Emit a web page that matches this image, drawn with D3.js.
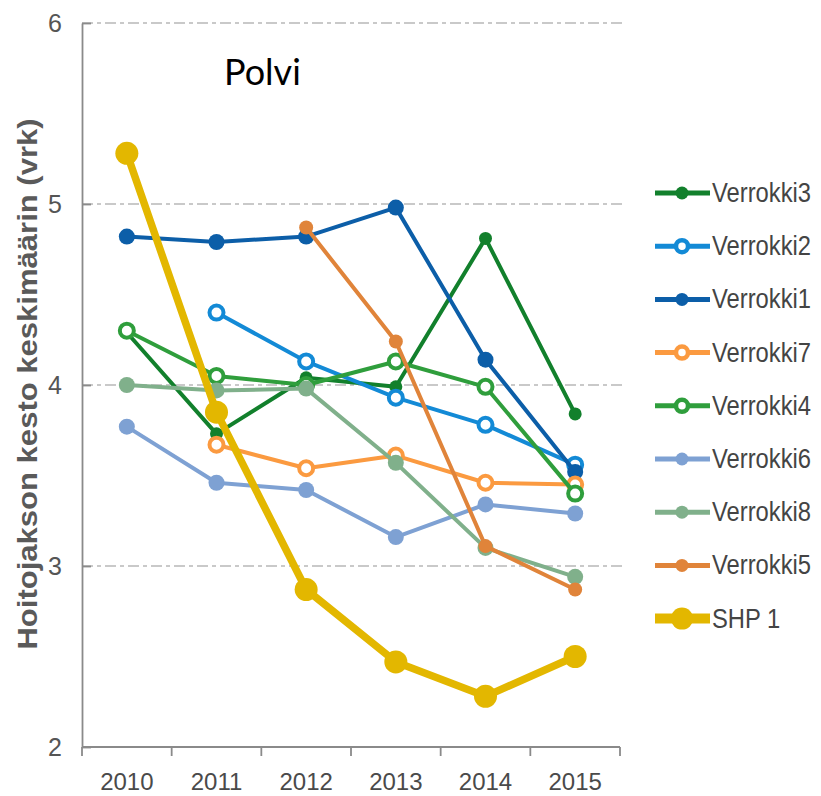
<!DOCTYPE html>
<html>
<head>
<meta charset="utf-8">
<script src="https://cdn.jsdelivr.net/npm/d3@7"></script>
<style>
body { margin: 0; background: #fff; }
svg { display: block; }
</style>
</head>
<body>
<svg width="821" height="796"></svg>
<script>
const years = [2010, 2011, 2012, 2013, 2014, 2015]
const yTicks = [2, 3, 4, 5, 6]

// null = no value that year
const verrokki3 = [4.29, 3.73, 4.04, 3.99, 4.81, 3.84]
const verrokki2 = [null, 4.40, 4.13, 3.93, 3.78, 3.56]
const verrokki1 = [4.82, 4.79, 4.82, 4.98, 4.14, 3.52]
const verrokki7 = [null, 3.67, 3.54, 3.61, 3.46, 3.45]
const verrokki4 = [4.30, 4.05, 4.00, 4.13, 3.99, 3.40]
const verrokki6 = [3.77, 3.46, 3.42, 3.16, 3.34, 3.29]
const verrokki8 = [4.00, 3.97, 3.98, 3.57, 3.10, 2.94]
const verrokki5 = [null, null, 4.87, 4.24, 3.11, 2.87]
const shp1 = [5.28, 3.85, 2.87, 2.47, 2.28, 2.50]

const series = [
    {name: "Verrokki3", values: verrokki3, color: "#12802c", open: false, r: 6.5, w: 4},
    {name: "Verrokki2", values: verrokki2, color: "#138ad6", open: true, r: 9, w: 4},
    {name: "Verrokki1", values: verrokki1, color: "#0c5ea8", open: false, r: 8, w: 4},
    {name: "Verrokki7", values: verrokki7, color: "#fb9a40", open: true, r: 9, w: 4},
    {name: "Verrokki4", values: verrokki4, color: "#2f9e3c", open: true, r: 9, w: 4},
    {name: "Verrokki6", values: verrokki6, color: "#7ea1d3", open: false, r: 8, w: 4},
    {name: "Verrokki8", values: verrokki8, color: "#80b08b", open: false, r: 8, w: 4},
    {name: "Verrokki5", values: verrokki5, color: "#e0843a", open: false, r: 7, w: 4},
    {name: "SHP 1", values: shp1, color: "#e3b700", open: false, r: 11.5, w: 7.5}
]

const svg = d3.select("svg")
const plotLeft = 82, plotRight = 620, plotTop = 23, plotBottom = 747

const x = d3.scaleBand().domain(years).range([plotLeft, plotRight])
const y = d3.scaleLinear().domain([2, 6]).range([plotBottom, plotTop])
const cx = d => x(d) + x.bandwidth() / 2

// gridlines
svg.append("g")
    .selectAll("line")
    .data(yTicks.filter(t => t > 2))
    .enter()
    .append("line")
    .attr("x1", plotLeft)
    .attr("x2", 622)
    .attr("y1", d => y(d))
    .attr("y2", d => y(d))
    .attr("stroke", "#c9c9c9")
    .attr("stroke-width", 2)
    .attr("stroke-dasharray", "11,4,4,4")

// y axis
const yAxis = svg.append("g")
    .attr("transform", `translate(${plotLeft},0)`)
    .call(d3.axisLeft(y).tickValues(yTicks).tickFormat(d3.format("d")).tickSizeInner(-9).tickSizeOuter(0).tickPadding(20))
yAxis.select(".domain").attr("stroke", "#8a8a8a").attr("stroke-width", 1.8)
yAxis.selectAll(".tick line").attr("stroke", "#8a8a8a").attr("stroke-width", 1.8)
yAxis.selectAll("text")
    .attr("font-family", "Liberation Sans, Arial, sans-serif")
    .attr("font-size", 25)
    .attr("fill", "#555")

// x axis
const xAxis = svg.append("g")
    .attr("transform", `translate(0,${plotBottom})`)
    .call(d3.axisBottom(x).tickSize(0).tickPadding(26))
xAxis.select(".domain").remove()
xAxis.selectAll("text")
    .attr("font-family", "Liberation Sans, Arial, sans-serif")
    .attr("font-size", 24)
    .attr("fill", "#4a4a4a")
xAxis.append("line")
    .attr("x1", plotLeft).attr("x2", plotRight)
    .attr("stroke", "#8a8a8a").attr("stroke-width", 1.8)
xAxis.selectAll(".bound")
    .data(years.map(d => x(d)).concat([plotRight]))
    .enter()
    .append("line")
    .attr("x1", d => d).attr("x2", d => d)
    .attr("y1", 0).attr("y2", 9)
    .attr("stroke", "#8a8a8a").attr("stroke-width", 1.8)

// axis title
svg.append("text")
    .attr("transform", "translate(37,384) rotate(-90) scale(1.15,1)")
    .attr("text-anchor", "middle")
    .attr("font-family", "Liberation Sans, Arial, sans-serif")
    .attr("font-weight", "bold")
    .attr("font-size", 27)
    .attr("fill", "#5a5a5a")
    .text("Hoitojakson kesto keskimäärin (vrk)")

// chart label
svg.append("text")
    .attr("x", 224)
    .attr("y", 85)
    .attr("font-family", "Lato, sans-serif")
    .attr("font-size", 36)
    .attr("fill", "#000")
    .text("Polvi")

// lines and markers
const line = d3.line()
    .defined(d => d.v != null)
    .x(d => cx(d.year))
    .y(d => y(d.v))

const sg = svg.append("g")
    .selectAll("g")
    .data(series)
    .enter()
    .append("g")

sg.append("path")
    .attr("d", s => line(s.values.map((v, i) => ({year: years[i], v}))))
    .attr("fill", "none")
    .attr("stroke", s => s.color)
    .attr("stroke-width", s => s.w)
    .attr("stroke-linejoin", "round")

sg.selectAll("circle")
    .data(s => s.values.map((v, i) => ({year: years[i], v, s})).filter(d => d.v != null))
    .enter()
    .append("circle")
    .attr("cx", d => cx(d.year))
    .attr("cy", d => y(d.v))
    .attr("r", d => d.s.open ? d.s.r - 2 : d.s.r)
    .attr("fill", d => d.s.open ? "#fff" : d.s.color)
    .attr("stroke", d => d.s.color)
    .attr("stroke-width", d => d.s.open ? 4 : 0)

// legend
const lg = svg.append("g")
    .selectAll("g")
    .data(series)
    .enter()
    .append("g")
    .attr("transform", (d, i) => `translate(655,${193 + i * 53.2})`)

lg.append("line")
    .attr("x1", 0).attr("x2", 55)
    .attr("stroke", d => d.color)
    .attr("stroke-width", d => d.name === "SHP 1" ? 10 : 5)
lg.append("circle")
    .attr("cx", 27)
    .attr("r", d => d.name === "SHP 1" ? 11 : (d.open ? 6 : 6.5))
    .attr("fill", d => d.open ? "#fff" : d.color)
    .attr("stroke", d => d.color)
    .attr("stroke-width", d => d.open ? 4.5 : 0)
lg.append("text")
    .attr("transform", "translate(57,9) scale(0.88,1)")
    .attr("font-family", "Liberation Sans, Arial, sans-serif")
    .attr("font-size", 27)
    .attr("fill", "#444")
    .text(d => d.name)
</script>
</body>
</html>
